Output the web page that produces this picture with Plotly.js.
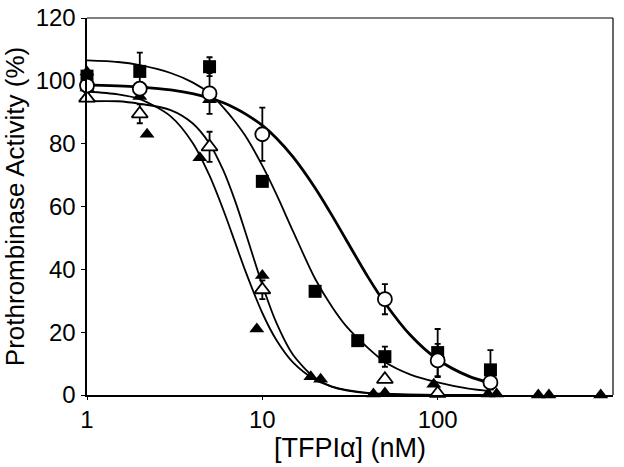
<!DOCTYPE html>
<html>
<head>
<meta charset="utf-8">
<script src="https://cdn.plot.ly/plotly-3.0.1.min.js"></script>
<style>html,body{margin:0;padding:0;background:#fff;}#chart{width:624px;height:467px;}</style>
</head>
<body>
<div id="chart"></div>
<script>
// ---- data ----
const squareX   = [1, 2, 5, 10, 20, 35, 50, 100, 200];
const squareY   = [101.5, 103, 104.5, 68, 33, 17.3, 12.2, 13.5, 8];
const squareErr = [0, 6, 3, 0, 0, 0, 3.2, 7.5, 6.3];

const circleX   = [1, 2, 5, 10, 50, 100, 200];
const circleY   = [98.5, 97.5, 96, 83, 30.5, 11, 4];
const circleErr = [0, 2, 6.5, 8.5, 4.8, 5.3, 0];

const openTriX   = [1, 2, 5, 10, 50, 100];
const openTriY   = [94.5, 89.5, 79, 33.5, 5, 0.5];
const openTriErr = [0, 3, 4.8, 3, 0, 0];

const filledTriX = [1, 1, 2, 2.2, 4.4, 5, 9.3, 10, 18.9, 21.5, 43, 50, 95, 194, 217, 375, 431, 851];
const filledTriY = [102.8, 97.7, 95, 83, 75.5, 94, 21, 38, 5.8, 5, 0.3, 0.6, 3.4, 0.3, 0.3, 0, 0, 0];

// fitted curves
const curveX = [1, 1.5, 2, 3, 4, 5, 6, 7, 8, 10, 12, 15, 20, 25, 30, 40, 50, 70, 100, 150, 200];
const squareFit    = [106.5, 106, 105, 102.5, 99.5, 96, 91.5, 87, 82.5, 73, 64, 52, 37, 28, 22, 15, 10.5, 6.5, 4, 2, 1.2];
const circleFit    = [98.7, 98.4, 98, 97.1, 95.9, 94.5, 93, 91.3, 89.5, 85.8, 81.8, 75.7, 65.9, 57.1, 49.5, 37.6, 29.3, 19, 11.3, 6, 3.8];
const openTriFit   = [93.5, 93.5, 92.7, 90.7, 86.5, 80, 71.4, 61.7, 51.9, 35, 23.1, 12.7, 5.4, 2.6, 1.5, 0.6, 0.3, 0.1, 0.05, 0.02, 0.01];
const filledTriFit = [96.6, 95.7, 94.2, 88.7, 80.3, 69.8, 58.8, 48.5, 39.5, 26.1, 17.6, 10.3, 4.9, 2.7, 1.6, 0.7, 0.4, 0.15, 0.05, 0.02, 0.01];

const xTickVals = [1, 10, 100];
const xTickText = ['1', '10', '100'];
const yTickVals = [0, 20, 40, 60, 80, 100, 120];

const FONT = 'Liberation Sans, Arial, sans-serif';

function curve(y, w) {
  return {x: curveX, y: y, type: 'scatter', mode: 'lines', line: {color: '#000', width: w, shape: 'spline', smoothing: 0.8},
          hoverinfo: 'skip', showlegend: false, cliponaxis: false};
}
function errBar(arr) {
  return {type: 'data', array: arr, visible: true, color: '#000', thickness: 1.8, width: 3};
}

const traces = [
  curve(squareFit, 1.8),
  curve(circleFit, 2.8),
  curve(openTriFit, 1.8),
  curve(filledTriFit, 1.8),
  {x: filledTriX, y: filledTriY, type: 'scatter', mode: 'markers', cliponaxis: false, showlegend: false,
   marker: {symbol: 'triangle-up', size: 13, color: '#000', line: {width: 0}}},
  {x: squareX, y: squareY, type: 'scatter', mode: 'markers', cliponaxis: false, showlegend: false,
   error_y: errBar(squareErr),
   marker: {symbol: 'square', size: 13, color: '#000', line: {width: 0}}},
  {x: openTriX, y: openTriY, type: 'scatter', mode: 'markers', cliponaxis: false, showlegend: false,
   error_y: errBar(openTriErr),
   marker: {symbol: 'triangle-up', size: 14, color: '#fff', line: {width: 1.8, color: '#000'}}},
  {x: circleX, y: circleY, type: 'scatter', mode: 'markers', cliponaxis: false, showlegend: false,
   error_y: errBar(circleErr),
   marker: {symbol: 'circle', size: 14, color: '#fff', line: {width: 1.8, color: '#000'}}}
];

const layout = {
  width: 624, height: 467,
  margin: {l: 87, r: 11, t: 18, b: 72, pad: 0},
  paper_bgcolor: '#fff', plot_bgcolor: '#fff',
  font: {family: FONT, color: '#000', size: 24},
  xaxis: {
    type: 'log', range: [0, 3], tickvals: xTickVals, ticktext: xTickText,
    showgrid: false, zeroline: false, showline: true, linecolor: '#000', linewidth: 1.5,
    ticks: 'outside', ticklen: 3, tickwidth: 1, tickcolor: '#000',
    tickfont: {family: FONT, size: 24, color: '#000'},
    title: {text: '[TFPIα] (nM)', font: {family: FONT, size: 27, color: '#000'}, standoff: 2}
  },
  yaxis: {
    range: [0, 120], tickvals: yTickVals,
    showgrid: false, zeroline: false, showline: true, linecolor: '#000', linewidth: 2.5,
    ticks: 'outside', ticklen: 4, tickwidth: 1, tickcolor: '#000',
    tickfont: {family: FONT, size: 24, color: '#000'},
    title: {text: 'Prothrombinase Activity (%)', font: {family: FONT, size: 26, color: '#000'}, standoff: 4}
  },
  shapes: [
    {type: 'line', xref: 'paper', yref: 'paper', x0: 0, x1: 1, y0: 1, y1: 1, line: {color: '#000', width: 1.2}},
    {type: 'line', xref: 'paper', yref: 'paper', x0: 1, x1: 1, y0: 0, y1: 1, line: {color: '#000', width: 1.2}}
  ],
  showlegend: false
};

Plotly.newPlot('chart', traces, layout, {displayModeBar: false, staticPlot: true});
</script>
</body>
</html>
